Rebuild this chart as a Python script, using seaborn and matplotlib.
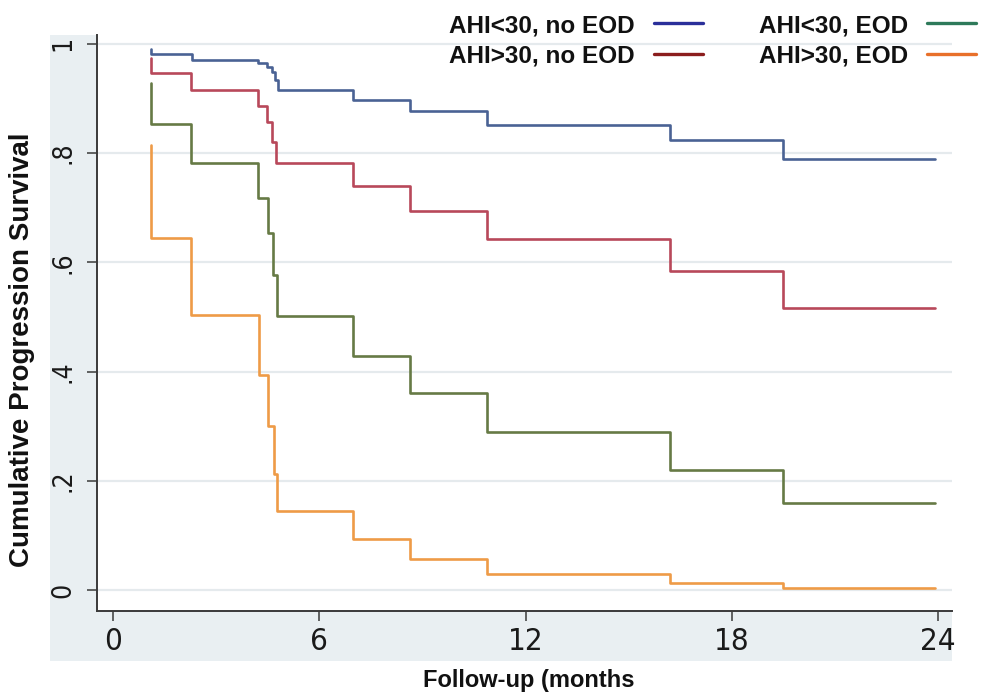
import matplotlib
matplotlib.use("Agg")
import matplotlib.pyplot as plt
from matplotlib import font_manager
from matplotlib.lines import Line2D
from matplotlib.patches import Rectangle
import pandas as pd
import seaborn as sns

# Kaplan-Meier step coordinates: follow-up time (months) and survival estimate
groups = ["AHI<30, no EOD", "AHI>30, no EOD", "AHI<30, EOD", "AHI>30, EOD"]

t_low_noeod = [1.1, 1.1, 2.30, 4.23, 4.47, 4.62, 4.72, 4.81, 6.99, 8.64, 10.88, 16.19, 19.48, 23.9]
s_low_noeod = [0.991, 0.982, 0.970, 0.964, 0.958, 0.948, 0.933, 0.916, 0.897, 0.877, 0.852, 0.823, 0.789, 0.789]

t_high_noeod = [1.1, 1.1, 2.27, 4.23, 4.47, 4.64, 4.74, 6.99, 8.64, 10.88, 16.19, 19.48, 23.9]
s_high_noeod = [0.973, 0.947, 0.916, 0.886, 0.857, 0.820, 0.781, 0.740, 0.694, 0.642, 0.584, 0.517, 0.517]

t_low_eod = [1.1, 1.1, 2.27, 4.23, 4.52, 4.67, 4.78, 6.99, 8.64, 10.88, 16.19, 19.48, 23.9]
s_low_eod = [0.929, 0.854, 0.782, 0.717, 0.653, 0.576, 0.501, 0.429, 0.360, 0.289, 0.220, 0.160, 0.160]

t_high_eod = [1.1, 1.1, 2.26, 4.26, 4.52, 4.69, 4.76, 6.99, 8.64, 10.88, 16.19, 19.48, 23.9]
s_high_eod = [0.814, 0.644, 0.503, 0.393, 0.300, 0.213, 0.145, 0.094, 0.057, 0.029, 0.013, 0.004, 0.004]

x_ticks = [0, 6, 12, 18, 24]
y_ticks = [0, 0.2, 0.4, 0.6, 0.8, 1.0]
y_tick_labels = ["0", ".2", ".4", ".6", ".8", "1"]

line_colors = ["#4a6294", "#b8485a", "#667a45", "#ee9b47"]
key_colors = ["#2a2f9a", "#8b1d1d", "#2e7a5a", "#e8702a"]

frames = []
for name, t, s in zip(groups,
                      [t_low_noeod, t_high_noeod, t_low_eod, t_high_eod],
                      [s_low_noeod, s_high_noeod, s_low_eod, s_high_eod]):
    frames.append(pd.DataFrame({"time": t, "surv": s, "group": name}))
df = pd.concat(frames, ignore_index=True)

sns.set_theme(style="white")
plt.rcParams["font.family"] = ["Liberation Sans", "DejaVu Sans"]

# pick a condensed face for the tick numbers if one is installed
installed = font_manager.fontManager.ttflist
tick_family, tick_stretch = "Liberation Sans", "normal"
if any(f.name == "Liberation Sans Narrow" for f in installed):
    tick_family = "Liberation Sans Narrow"
elif any(f.name == "DejaVu Sans" and f.stretch == "condensed" for f in installed):
    tick_family, tick_stretch = "DejaVu Sans", "condensed"

W, H = 982, 698
fig = plt.figure(figsize=(W / 100, H / 100), dpi=100, facecolor="white")

# light graph-region panel behind the plot area and tick labels
fig.add_artist(Rectangle((50 / W, 1 - 661 / H), (952 - 50) / W, (661 - 35) / H,
                         transform=fig.transFigure, facecolor="#E9EFF2",
                         edgecolor="none", zorder=0))

ax = fig.add_axes([97 / W, 1 - 611 / H, (952 - 97) / W, (611 - 35) / H])
ax.set_facecolor("white")
ax.set_zorder(1)

sns.lineplot(data=df, x="time", y="surv", hue="group", hue_order=groups,
             palette=line_colors, estimator=None, sort=False,
             drawstyle="steps-post", linewidth=1.9, legend=False, ax=ax)

ax.set_xlim(-0.46, 24.4)
ax.set_ylim(-0.038, 1.016)
ax.set_xticks(x_ticks)
ax.set_xticklabels([str(v) for v in x_ticks])
ax.set_yticks(y_ticks)
ax.set_yticklabels(y_tick_labels)
ax.set_xlabel("")
ax.set_ylabel("")

ax.yaxis.grid(True, color="#E5EAED", linewidth=1.6)
ax.xaxis.grid(False)
ax.set_axisbelow(True)

for side in ["top", "right"]:
    ax.spines[side].set_visible(False)
for side in ["left", "bottom"]:
    ax.spines[side].set_color("#3a3a3a")
    ax.spines[side].set_linewidth(1.4)

ax.tick_params(axis="both", which="major", direction="out", length=7.5,
               width=1.1, color="#3a3a3a", labelcolor="#1a1a1a",
               left=True, bottom=True)
ax.tick_params(axis="x", pad=4)
ax.tick_params(axis="y", pad=7)
for lab in ax.get_xticklabels():
    lab.set_fontfamily(tick_family)
    lab.set_fontstretch(tick_stretch)
    lab.set_fontsize(22.5)
for lab in ax.get_yticklabels():
    lab.set_fontfamily(tick_family)
    lab.set_fontstretch(tick_stretch)
    lab.set_fontsize(19)
    lab.set_rotation(90)
    lab.set_verticalalignment("center")

fig.text(22 / W, 1 - 350 / H, "Cumulative Progression Survival",
         rotation=90, ha="center", va="center", fontsize=20,
         fontweight="bold", color="#111111")
fig.text(529 / W, 1 - 680 / H, "Follow-up (months", ha="center",
         va="center", fontsize=17, fontweight="bold", color="#111111")

handles = [Line2D([], [], color=c, linewidth=2.4) for c in key_colors]
leg = fig.legend(handles, groups, loc="upper right",
                 bbox_to_anchor=(976 / W, 1 - 14 / H), ncol=2,
                 markerfirst=False, frameon=False, borderpad=0,
                 borderaxespad=0, handlelength=2.0, handletextpad=0.8,
                 columnspacing=2.3, labelspacing=0.3,
                 prop={"family": "Liberation Sans", "weight": "bold",
                       "size": 17.5})
for txt in leg.get_texts():
    txt.set_color("#111111")
leg.set_zorder(5)

fig.savefig("out.png", dpi=100, facecolor="white")
